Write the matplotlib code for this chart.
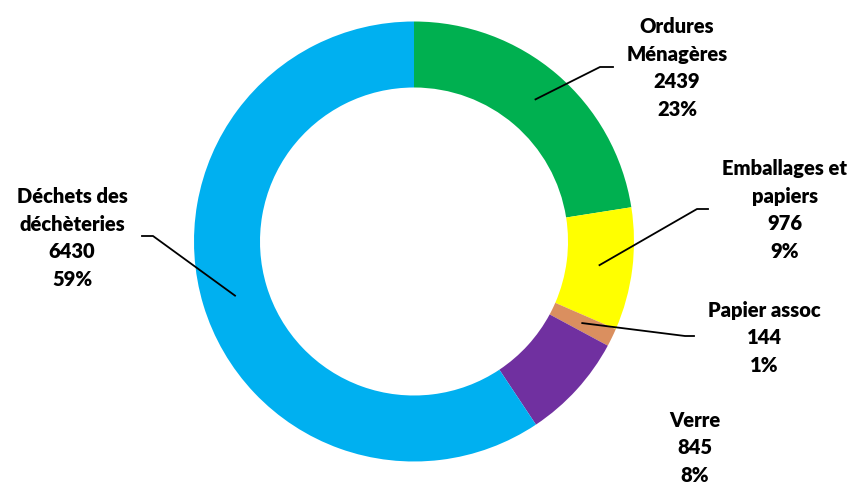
import numpy as np
import matplotlib
matplotlib.use("Agg")
import matplotlib.pyplot as plt

categories = ["Ordures\nMénagères", "Emballages et\npapiers", "Papier assoc", "Verre", "Déchets des\ndéchèteries"]
values = [2439, 976, 144, 845, 6430]
colors = ["#00B050", "#FFFF00", "#DA8F5F", "#7030A0", "#00B0F0"]

# label block centres (pixels, y from top) and leader elbow points
label_pos = [(677, 68), (785, 210), (764, 338), (695, 448), (72, 238)]
elbows = [[(600, 67), (613, 67)], [(697, 209), (708, 209)], [(685, 336), (694, 336)], None, [(153, 236), (142, 236)]]

W, H = 857, 484
cx, cy, R = 414, 241.5, 220

fig = plt.figure(figsize=(W / 100, H / 100), dpi=100)
ax = fig.add_axes([0, 0, 1, 1])
ax.set_xlim(0, W)
ax.set_ylim(0, H)
ax.axis('off')

wedges, _ = ax.pie(values, colors=colors, startangle=90, counterclock=False,
                   center=(cx, H - cy), radius=R,
                   wedgeprops=dict(width=0.30 * R, linewidth=0))
ax.set_xlim(0, W)
ax.set_ylim(0, H)
ax.set_aspect('equal')

total = sum(values)
for w, cat, v, (lx, ly), elb in zip(wedges, categories, values, label_pos, elbows):
    pct = round(100 * v / total)
    ax.text(lx, H - ly, f"{cat}\n{v}\n{pct}%", ha='center', va='center',
            fontsize=14.5, fontweight='heavy', family='Lato', linespacing=1.55, color='black')
    if elb is not None:
        ang = np.deg2rad((w.theta1 + w.theta2) / 2)
        r = 0.85 * R
        xs = [cx + r * np.cos(ang)] + [p[0] for p in elb]
        ys = [H - cy + r * np.sin(ang)] + [H - p[1] for p in elb]
        ax.plot(xs, ys, color='black', linewidth=1.3)

fig.savefig("out.png", dpi=100)
